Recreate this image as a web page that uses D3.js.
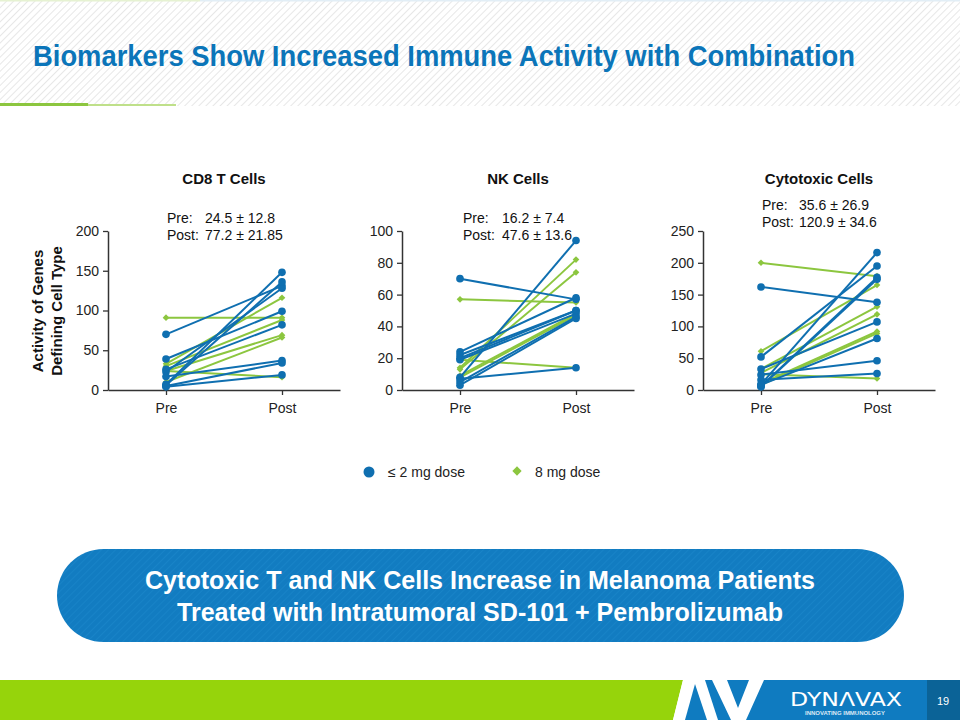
<!DOCTYPE html>
<html>
<head>
<meta charset="utf-8">
<script src="https://cdn.jsdelivr.net/npm/d3@7"></script>
<style>
  html, body { margin: 0; padding: 0; background: #ffffff; }
  svg { display: block; font-family: "Liberation Sans", Arial, sans-serif; }
</style>
</head>
<body>
<svg id="chart" width="960" height="720"></svg>
<script>
// ---------------- DATA ----------------
const slideTitle = "Biomarkers Show Increased Immune Activity with Combination";
const timepoints = ["Pre", "Post"];
const panelTitles = ["CD8 T Cells", "NK Cells", "Cytotoxic Cells"];
const panelMaxima = [200, 100, 250];
const panelTickValues = [[0, 50, 100, 150, 200], [0, 20, 40, 60, 80, 100], [0, 50, 100, 150, 200, 250]];
const statsPre = ["24.5 ± 12.8", "16.2 ± 7.4", "35.6 ± 26.9"];
const statsPost = ["77.2 ± 21.85", "47.6 ± 13.6", "120.9 ± 34.6"];
const seriesNames = ["≤ 2 mg dose", "8 mg dose"];

// CD8 T cells
const cd8LowPre  = [70, 39, 26, 23, 17, 7, 6, 5, 4];
const cd8LowPost = [131, 99, 82, 128, 37, 148, 136, 34, 19];
const cd8HighPre  = [91, 33, 30, 24, 10, 24];
const cd8HighPost = [91, 116, 88, 69, 66, 16];
// NK cells
const nkLowPre  = [70, 24, 22, 20, 19, 8, 7, 5, 3];
const nkLowPost = [57, 58, 50, 50, 48, 94, 14, 46, 45];
const nkHighPre  = [57, 19, 14, 13, 9, 8];
const nkHighPost = [55, 14, 82, 74, 48, 47];
// Cytotoxic cells
const cytoLowPre  = [162, 52, 33, 24, 16, 9, 6, 5, 8];
const cytoLowPost = [138, 195, 107, 46, 26, 216, 177, 174, 81];
const cytoHighPre  = [200, 61, 33, 27, 25, 10, 8];
const cytoHighPost = [179, 165, 131, 119, 18, 92, 89];

const yAxisLabel = ["Activity of Genes", "Defining Cell Type"];
const bannerLines = ["Cytotoxic T and NK Cells Increase in Melanoma Patients",
                     "Treated with Intratumoral SD-101 + Pembrolizumab"];
const pageNumber = "19";

// ---------------- STYLE ----------------
const BLUE = "#0f6fb0";
const GREEN = "#8cc63f";
const TITLE_BLUE = "#0b75b9";
const AXIS = "#333333";
const NARROW = "'Liberation Sans', Arial, sans-serif";

const svg = d3.select("#chart");
const defs = svg.append("defs");

// Header stripes
const pat = defs.append("pattern").attr("id", "stripes")
  .attr("patternUnits", "userSpaceOnUse").attr("width", 5).attr("height", 5)
  .attr("patternTransform", "rotate(45)");
pat.append("rect").attr("width", 5).attr("height", 5).attr("fill", "#ffffff");
pat.append("line").attr("x1", 0).attr("y1", 0).attr("x2", 0).attr("y2", 5)
  .attr("stroke", "#e1e1e1").attr("stroke-width", 1.6);

const pat2 = defs.append("pattern").attr("id", "bstripes")
  .attr("patternUnits", "userSpaceOnUse").attr("width", 5).attr("height", 5)
  .attr("patternTransform", "rotate(45)");
pat2.append("rect").attr("width", 5).attr("height", 5).attr("fill", "#127cc1");
pat2.append("line").attr("x1", 0).attr("y1", 0).attr("x2", 0).attr("y2", 5)
  .attr("stroke", "#1a86c9").attr("stroke-width", 1.5);

svg.append("rect").attr("x", 0).attr("y", 0).attr("width", 960).attr("height", 106)
  .attr("fill", "url(#stripes)");
svg.append("rect").attr("x", 0).attr("y", 0).attr("width", 200).attr("height", 1.5).attr("fill", "#e6f2d2");
svg.append("rect").attr("x", 200).attr("y", 0).attr("width", 760).attr("height", 1.5).attr("fill", "#e2eef6");
svg.append("rect").attr("x", 0).attr("y", 103).attr("width", 88).attr("height", 3).attr("fill", "#8cc63f");
svg.append("rect").attr("x", 88).attr("y", 104).attr("width", 88).attr("height", 2).attr("fill", "#bfe08a");

svg.append("text").attr("x", 33).attr("y", 66)
  .attr("fill", TITLE_BLUE)
  .style("font-family", NARROW)
  .style("font-weight", "bold").style("font-size", "30px")
  .attr("textLength", 822).attr("lengthAdjust", "spacingAndGlyphs")
  .text(slideTitle);

// ---------------- PANELS ----------------
const panelData = [
  { low: [cd8LowPre, cd8LowPost], high: [cd8HighPre, cd8HighPost] },
  { low: [nkLowPre, nkLowPost], high: [nkHighPre, nkHighPost] },
  { low: [cytoLowPre, cytoLowPost], high: [cytoHighPre, cytoHighPost] }
];
const panelX0 = [108, 402, 703];
const statsX = [[167, 205], [463, 502], [762, 799]];
const statsY = [[223, 240], [223, 240], [210, 227]];
const panelW = 232, yTop = 231, yBottom = 390;

panelData.forEach((pd, i) => {
  const x0 = panelX0[i];
  const x = d3.scalePoint().domain(timepoints).range([x0, x0 + panelW]).padding(0.5);
  const y = d3.scaleLinear().domain([0, panelMaxima[i]]).range([yBottom, yTop]);
  const g = svg.append("g");

  // axes
  const ya = g.append("g").attr("transform", `translate(${x0},0)`)
    .call(d3.axisLeft(y).tickValues(panelTickValues[i]).tickSize(5).tickSizeOuter(0).tickPadding(4));
  const xa = g.append("g").attr("transform", `translate(0,${yBottom})`)
    .call(d3.axisBottom(x).tickSize(5).tickSizeOuter(0).tickPadding(8));
  [ya, xa].forEach(a => {
    a.select(".domain").attr("stroke", AXIS).attr("stroke-width", 1.5);
    a.selectAll(".tick line").attr("stroke", AXIS).attr("stroke-width", 1.3);
    a.selectAll("text").attr("fill", "#222").style("font-size", "14px")
      .style("font-family", "'Liberation Sans', Arial, sans-serif");
  });

  // title
  g.append("text").attr("x", x0 + panelW / 2).attr("y", 184).attr("text-anchor", "middle")
    .style("font-weight", "bold").style("font-size", "15px").attr("fill", "#111")
    .text(panelTitles[i]);
  // stats
  [["Pre:", statsPre[i]], ["Post:", statsPost[i]]].forEach((s, k) => {
    g.append("text").attr("x", statsX[i][0]).attr("y", statsY[i][k]).style("font-size", "14px")
      .attr("fill", "#111").text(s[0]);
    g.append("text").attr("x", statsX[i][1]).attr("y", statsY[i][k]).style("font-size", "14px")
      .attr("fill", "#111").text(s[1]);
  });

  const drawSeries = (pair, color, shape) => {
    const [pre, post] = pair;
    pre.forEach((v, j) => {
      g.append("line")
        .attr("x1", x("Pre")).attr("y1", y(v))
        .attr("x2", x("Post")).attr("y2", y(post[j]))
        .attr("stroke", color).attr("stroke-width", 2);
    });
    const pts = [];
    pre.forEach((v, j) => { pts.push(["Pre", v]); pts.push(["Post", post[j]]); });
    g.selectAll(null).data(pts).enter().append("path")
      .attr("transform", d => `translate(${x(d[0])},${y(d[1])})`)
      .attr("d", d3.symbol().type(shape).size(shape === d3.symbolCircle ? 46 : 28)())
      .attr("fill", color);
  };
  drawSeries(pd.high, GREEN, d3.symbolDiamond2);
  drawSeries(pd.low, BLUE, d3.symbolCircle);
});

// y axis label
yAxisLabel.forEach((t, k) => {
  svg.append("text")
    .attr("transform", `translate(${43 + k * 19},${311}) rotate(-90)`)
    .attr("text-anchor", "middle")
    .style("font-weight", "bold").style("font-size", "15px").attr("fill", "#111")
    .text(t);
});

// legend
const legend = svg.append("g");
legend.append("path").attr("transform", "translate(369,472)")
  .attr("d", d3.symbol().type(d3.symbolCircle).size(95)()).attr("fill", BLUE);
legend.append("text").attr("x", 388).attr("y", 477).style("font-size", "14px").attr("fill", "#222")
  .text(seriesNames[0]);
legend.append("path").attr("transform", "translate(517,471)")
  .attr("d", d3.symbol().type(d3.symbolDiamond2).size(55)()).attr("fill", GREEN);
legend.append("text").attr("x", 535).attr("y", 477).style("font-size", "14px").attr("fill", "#222")
  .text(seriesNames[1]);

// banner
svg.append("rect").attr("x", 57).attr("y", 549).attr("width", 847).attr("height", 93)
  .attr("rx", 46.5).attr("ry", 46.5).attr("fill", "url(#bstripes)");
bannerLines.forEach((t, k) => {
  svg.append("text").attr("x", 480).attr("y", 589 + k * 32).attr("text-anchor", "middle")
    .attr("fill", "#ffffff")
    .style("font-family", NARROW)
    .style("font-weight", "bold").style("font-size", "25px")
    .attr("textLength", k === 0 ? 670 : 606).attr("lengthAdjust", "spacingAndGlyphs")
    .text(t);
});

// footer
svg.append("polygon").attr("points", "0,680 683,680 673,720 0,720").attr("fill", "#96d40b");
svg.append("rect").attr("x", 683).attr("y", 680).attr("width", 277).attr("height", 40).attr("fill", "#0f7bc0");
svg.append("rect").attr("x", 927).attr("y", 680).attr("width", 33).attr("height", 40).attr("fill", "#0b6397");
svg.append("polygon").attr("points", "673,720 683,680 705,680 718,720").attr("fill", "#ffffff");
svg.append("polygon").attr("points", "685,720 695,684 707,720").attr("fill", "#0f7bc0");
svg.append("polygon").attr("points", "712,680 727,680 738,708 749,680 764,680 746,720 731,720").attr("fill", "#ffffff");
svg.append("text").attr("x", 846).attr("y", 706).attr("text-anchor", "middle").attr("fill", "#ffffff")
  .style("font-size", "20px").style("font-family", "'DejaVu Sans', sans-serif")
  .attr("textLength", 112).attr("lengthAdjust", "spacingAndGlyphs").text("DYNΛVAX");
svg.append("text").attr("x", 845).attr("y", 715).attr("text-anchor", "middle").attr("fill", "#dbe9f5")
  .style("font-size", "5.5px").style("font-weight", "bold").attr("textLength", 80)
  .attr("lengthAdjust", "spacingAndGlyphs").text("INNOVATING IMMUNOLOGY");
svg.append("text").attr("x", 943).attr("y", 705).attr("text-anchor", "middle").attr("fill", "#ffffff")
  .style("font-size", "11px").text(pageNumber);
</script>
</body>
</html>
